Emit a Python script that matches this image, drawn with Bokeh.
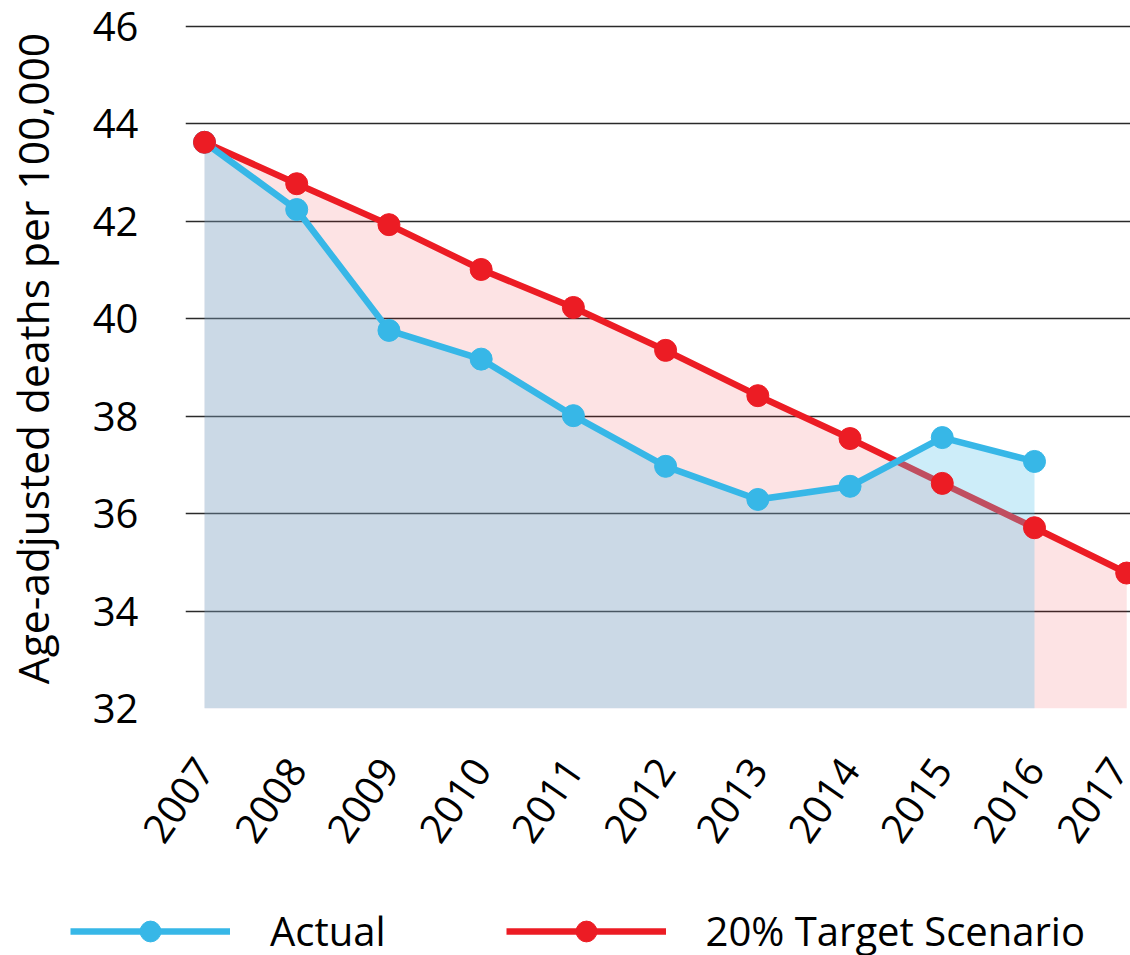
import numpy as np
from bokeh.plotting import figure
from bokeh.models import Range1d, FixedTicker, Legend, LegendItem
from bokeh.embed import file_html
from bokeh.resources import INLINE
from math import pi

# ---- data ----
years_actual = [2007, 2008, 2009, 2010, 2011, 2012, 2013, 2014, 2015, 2016]
actual = [43.62, 42.24, 39.76, 39.17, 38.01, 36.97, 36.29, 36.56, 37.56, 37.07]
years_target = [2007, 2008, 2009, 2010, 2011, 2012, 2013, 2014, 2015, 2016, 2017]
target = [43.62, 42.77, 41.93, 41.01, 40.23, 39.35, 38.42, 37.54, 36.62, 35.71, 34.78]
y_ticks = [32, 34, 36, 38, 40, 42, 44, 46]
x_tick_labels = ["2007", "2008", "2009", "2010", "2011", "2012", "2013", "2014", "2015", "2016", "2017"]
series_names = ["Actual", "20% Target Scenario"]

BLUE = "#37b7e7"
RED = "#ec1c24"
FONT = "Open Sans"
BASE = y_ticks[0]

p = figure(width=1130, height=860,
           x_range=Range1d(2006.794, 2017.041), y_range=Range1d(32, 46.366),
           output_backend="svg", toolbar_location=None,
           min_border_left=185, min_border_right=0, min_border_top=8, min_border_bottom=152)
p.outline_line_color = None
p.background_fill_color = "white"
p.border_fill_color = "white"

# fills and lines
p.varea(x=years_target, y1=[BASE] * len(years_target), y2=target, fill_color=RED, fill_alpha=0.12)
red_line = p.line(years_target, target, line_color=RED, line_width=6.5)
p.varea(x=years_actual, y1=[BASE] * len(years_actual), y2=actual, fill_color="#58c4ea", fill_alpha=0.3)
blue_line = p.line(years_actual, actual, line_color=BLUE, line_width=6.5)
blue_pts = p.scatter(years_actual, actual, size=22, fill_color=BLUE, line_color=BLUE)
red_pts = p.scatter(years_target, target, size=22, fill_color=RED, line_color=RED)

# axes
p.xaxis.ticker = FixedTicker(ticks=years_target)
p.xaxis.major_label_overrides = {y: l for y, l in zip(years_target, x_tick_labels)}
p.xaxis.major_label_orientation = 55 * pi / 180
p.yaxis.ticker = FixedTicker(ticks=y_ticks)
for ax in (p.xaxis, p.yaxis):
    ax.axis_line_color = None
    ax.major_tick_line_color = None
    ax.minor_tick_line_color = None
    ax.major_label_text_font = FONT
    ax.major_label_text_font_size = "40px"
    ax.major_label_text_color = "black"
p.xaxis.major_label_standoff = 48
p.yaxis.major_label_standoff = 41
p.yaxis.axis_label = "Age-adjusted deaths per 100,000"
p.yaxis.axis_label_text_font = FONT
p.yaxis.axis_label_text_font_size = "42.5px"
p.yaxis.axis_label_text_font_style = "normal"
p.yaxis.axis_label_text_color = "black"
p.yaxis.axis_label_standoff = 29

p.xgrid.grid_line_color = None
p.ygrid.ticker = FixedTicker(ticks=y_ticks)
p.ygrid.grid_line_color = "#2a2a2a"
p.ygrid.grid_line_width = 1.5

# ---- legend strip (separate figure; its series copies lie outside its view) ----
lg = figure(width=1130, height=95, x_range=Range1d(0, 1), y_range=Range1d(0, 1),
            output_backend="svg", toolbar_location=None,
            min_border_left=0, min_border_right=0, min_border_top=0, min_border_bottom=0)
lg.axis.visible = False
lg.grid.visible = False
lg.outline_line_color = None
lg.background_fill_color = "white"
lg.border_fill_color = "white"
lb_line = lg.line(years_actual, actual, line_color=BLUE, line_width=6.5)
lb_pts = lg.scatter(years_actual, actual, size=22, fill_color=BLUE, line_color=BLUE)
lr_line = lg.line(years_target, target, line_color=RED, line_width=6.5)
lr_pts = lg.scatter(years_target, target, size=22, fill_color=RED, line_color=RED)

legend = Legend(items=[LegendItem(label=series_names[0], renderers=[lb_line, lb_pts]),
                       LegendItem(label=series_names[1], renderers=[lr_line, lr_pts])],
                orientation="horizontal", location=(70, -3),
                glyph_width=160, glyph_height=52, label_standoff=40, spacing=120,
                padding=0, margin=0, border_line_color=None, background_fill_alpha=0,
                label_text_font=FONT, label_text_font_size="40px", label_text_color="black")
lg.add_layout(legend)

open("out.html", "w").write(file_html([p, lg], INLINE))
